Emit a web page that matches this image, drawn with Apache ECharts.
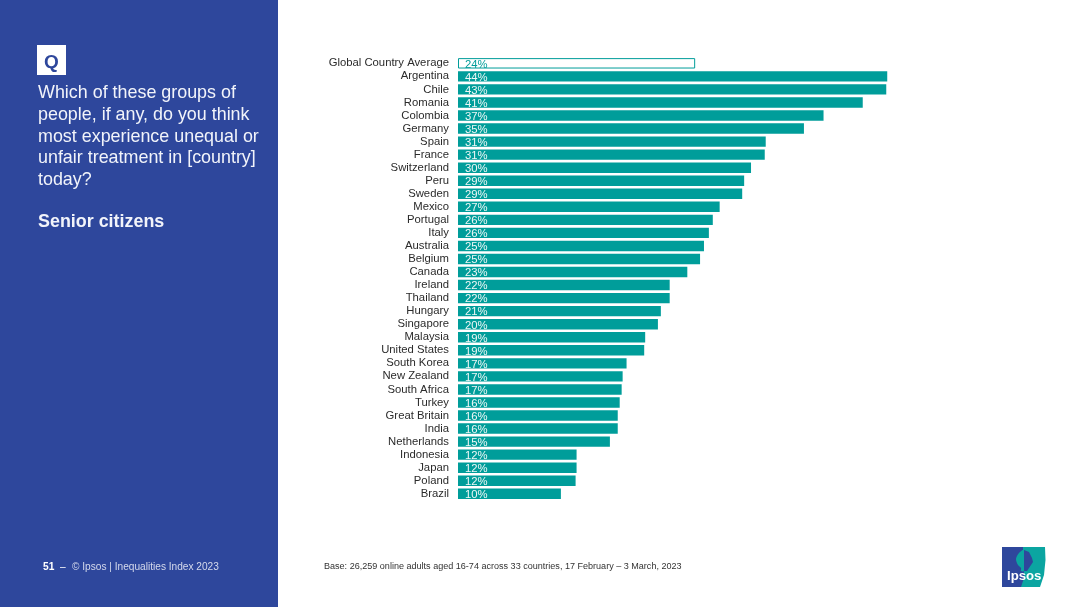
<!DOCTYPE html>
<html>
<head>
<meta charset="utf-8">
<title>Senior citizens</title>
<script src="https://cdn.jsdelivr.net/npm/echarts@6/dist/echarts.min.js"></script>
<style>
  html, body { margin: 0; padding: 0; background: #fff; }
  #chart { width: 1080px; height: 607px; }
</style>
</head>
<body>
<div id="chart"></div>
<script>
const countries = ['Global Country Average', 'Argentina', 'Chile', 'Romania', 'Colombia', 'Germany', 'Spain', 'France',
  'Switzerland', 'Peru', 'Sweden', 'Mexico', 'Portugal', 'Italy', 'Australia', 'Belgium', 'Canada', 'Ireland',
  'Thailand', 'Hungary', 'Singapore', 'Malaysia', 'United States', 'South Korea', 'New Zealand', 'South Africa',
  'Turkey', 'Great Britain', 'India', 'Netherlands', 'Indonesia', 'Japan', 'Poland', 'Brazil'];
// bar lengths as measured, the printed labels are rounded
const barValues = [24.2, 43.8, 43.7, 41.3, 37.3, 35.3, 31.4, 31.3, 29.9, 29.2, 29.0, 26.7, 26.0, 25.6, 25.1, 24.7, 23.4,
  21.6, 21.6, 20.7, 20.4, 19.1, 19.0, 17.2, 16.8, 16.7, 16.5, 16.3, 16.3, 15.5, 12.1, 12.1, 12.0, 10.5];
const barLabels = ['24%', '44%', '43%', '41%', '37%', '35%', '31%', '31%', '30%', '29%', '29%', '27%', '26%', '26%', '25%',
  '25%', '23%', '22%', '22%', '21%', '20%', '19%', '19%', '17%', '17%', '17%', '16%', '16%', '16%', '15%', '12%', '12%', '12%', '10%'];
const questionLines = ['Which of these groups of', 'people, if any, do you think', 'most experience unequal or',
  'unfair treatment in [country]', 'today?'];

const FONT = '"Liberation Sans", Arial, sans-serif';
const TEAL = '#009d9a';
const BLUE = '#2e479c';

let chart = echarts.init(document.getElementById('chart'));

let barData = barValues.map(function (v, i) {
  if (i === 0) {
    return {
      value: v,
      itemStyle: { color: '#fff', borderColor: TEAL, borderWidth: 1 },
      label: { color: TEAL }
    };
  }
  return v;
});

let questionText = questionLines.map(function (line, i) {
  return {
    type: 'text', x: 38, y: 84.5 + i * 21.6,
    style: { text: line, fill: '#f2f4fa', font: '17.9px ' + FONT }
  };
});

let option = {
  animation: false,
  backgroundColor: '#fff',
  grid: { left: 458, top: 56.8, width: 490, height: 443.5 },
  xAxis: { type: 'value', min: 0, max: 50, show: false },
  yAxis: {
    type: 'category',
    inverse: true,
    data: countries,
    axisLine: { show: false },
    axisTick: { show: false },
    axisLabel: { color: '#2b2b2b', fontFamily: FONT, fontSize: 11.3, margin: 9, interval: 0 }
  },
  series: [{
    type: 'bar',
    data: barData,
    barWidth: 10.4,
    itemStyle: { color: TEAL },
    label: {
      show: true,
      position: 'insideLeft',
      distance: 7,
      offset: [0, 1.2],
      color: '#eef8f7',
      fontFamily: FONT,
      fontSize: 11.3,
      formatter: function (p) { return barLabels[p.dataIndex]; }
    }
  }],
  graphic: [
    { type: 'rect', shape: { x: 0, y: 0, width: 278, height: 607 }, style: { fill: BLUE }, z: -1 },
    { type: 'rect', shape: { x: 37, y: 45, width: 29, height: 30 }, style: { fill: '#fff' } },
    { type: 'text', x: 44, y: 53, style: { text: 'Q', fill: BLUE, font: 'bold 19px ' + FONT } }
  ].concat(questionText).concat([
    { type: 'text', x: 38, y: 213.5, style: { text: 'Senior citizens', fill: '#f2f4fa', font: 'bold 17.9px ' + FONT } },
    { type: 'text', x: 43, y: 562, style: { text: '51', fill: '#fff', font: 'bold 10.2px ' + FONT } },
    { type: 'text', x: 60, y: 562, style: { text: '–', fill: '#fff', font: '10.2px ' + FONT } },
    { type: 'text', x: 72, y: 562, style: { text: '© Ipsos | Inequalities Index 2023', fill: '#d5daec', font: '10.15px ' + FONT } },
    { type: 'text', x: 324, y: 562, style: { text: 'Base: 26,259 online adults aged 16-74 across 33 countries, 17 February – 3 March, 2023', fill: '#333', font: '9.05px ' + FONT } },
    // logo
    { type: 'rect', shape: { x: 1002, y: 547, width: 22, height: 40 }, style: { fill: BLUE } },
    { type: 'polygon', shape: { points: [[1023, 547], [1045, 547], [1045.5, 560], [1044, 575], [1040, 587], [1021, 587], [1024, 578], [1024, 570], [1023, 560]] }, style: { fill: '#0ba5a1' } },
    { type: 'polygon', shape: { smooth: 0.3, points: [[1024, 550], [1019, 553], [1016, 559], [1018, 565], [1021, 568], [1021, 571], [1024, 571]] }, style: { fill: '#0ba5a1' } },
    { type: 'polygon', shape: { points: [[1024, 550], [1029, 552], [1032, 558], [1033, 562], [1031, 565], [1029, 568], [1027, 571], [1024, 571]] }, style: { fill: BLUE } },
    { type: 'text', x: 1007, y: 570, style: { text: 'Ipsos', fill: '#fff', font: 'bold 13.2px ' + FONT } }
  ])
};
chart.setOption(option);
</script>
</body>
</html>
